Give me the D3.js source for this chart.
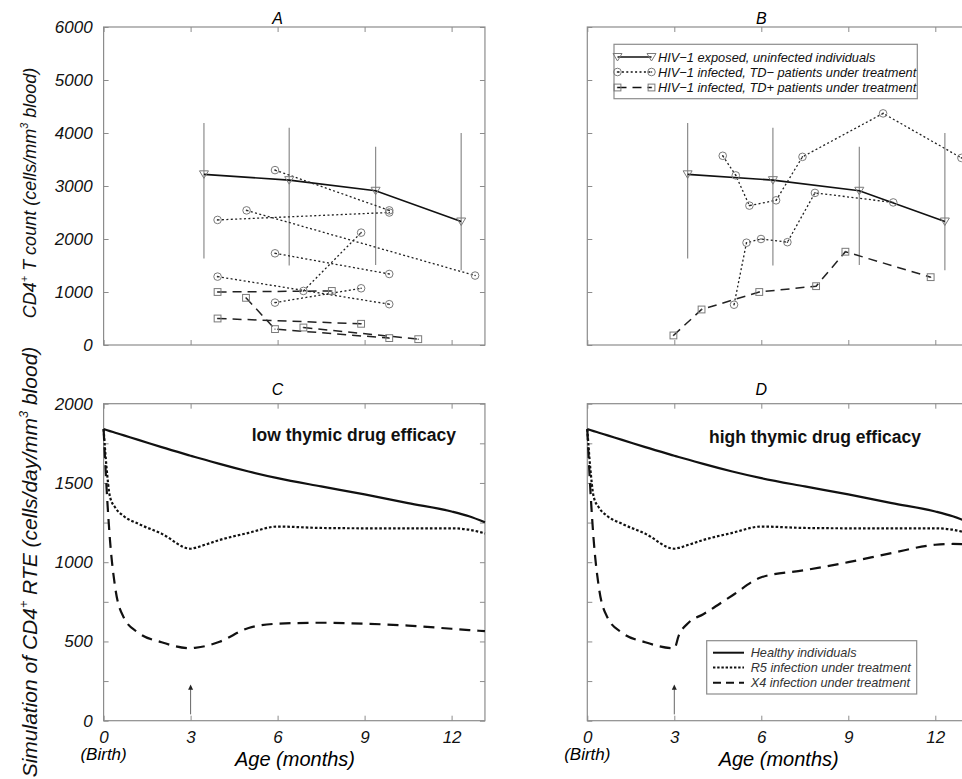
<!DOCTYPE html>
<html>
<head>
<meta charset="utf-8">
<script src="https://cdn.jsdelivr.net/npm/d3@7"></script>
<style>
  body { margin: 0; background: #fff; }
  svg text { font-family: "Liberation Sans", Arial, Helvetica, sans-serif; }
</style>
</head>
<body>
<svg id="fig" width="962" height="779"></svg>
<script>
// ---- data ----
const monthTicks = [0, 3, 6, 9, 12]
const countTicks = [0, 1000, 2000, 3000, 4000, 5000, 6000]
const rteTicks = [0, 250, 500, 750, 1000, 1250, 1500, 1750, 2000]

// HIV-1 exposed, uninfected (mean + range bars), same in A and B
const exposedAge = [3.46, 6.40, 9.38, 12.33]
const exposedMean = [3220, 3110, 2910, 2330]
const exposedHigh = [4190, 4100, 3740, 4000]
const exposedLow = [1630, 1500, 1510, 1410]

// individual patients, [age (months), CD4 count]
const tdMinusA = [
  [[5.91, 3300], [9.85, 2540]],
  [[3.93, 2360], [9.85, 2500]],
  [[4.93, 2540], [12.81, 1310]],
  [[5.91, 1730], [9.85, 1340]],
  [[3.93, 1290], [9.85, 770]],
  [[6.89, 1020], [8.88, 2120]],
  [[5.91, 800], [8.88, 1070]]
]
const tdPlusA = [
  [[3.93, 1000], [7.87, 1020]],
  [[3.93, 500], [8.88, 400]],
  [[4.91, 890], [5.91, 300], [9.85, 130]],
  [[6.89, 330], [10.85, 110]]
]
const tdMinusB = [
  [[4.67, 3570], [5.12, 3200], [5.59, 2630], [6.51, 2730], [7.42, 3550], [10.2, 4370], [12.9, 3530]],
  [[5.06, 760], [5.49, 1930], [5.99, 2000], [6.90, 1940], [7.85, 2870], [10.55, 2690]]
]
const tdPlusB = [
  [[2.97, 180], [3.94, 670], [5.93, 1000], [7.89, 1110], [8.90, 1760], [11.84, 1280]]
]

// simulations (C: low efficacy, D: high efficacy)
const simAge  = [0, 0.1, 0.22, 0.4, 0.7, 1.2, 2, 3, 3.15, 3.5, 4, 5, 6, 7.5, 9, 10.5, 12, 12.6, 13.15]
const healthy = [1840, 1834, 1827, 1817, 1800, 1772, 1726, 1672, 1664, 1646, 1620, 1572, 1530, 1478, 1428, 1373, 1320, 1290, 1252]
const r5      = [1840, 1600, 1413, 1345, 1290, 1242, 1180, 1085, 1090, 1110, 1140, 1185, 1225, 1216, 1214, 1214, 1214, 1205, 1182]
const x4Low   = [1840, 1476, 1140, 840, 650, 555, 495, 457, 460, 470, 498, 585, 612, 618, 612, 600, 580, 572, 565]
const x4High  = [1840, 1476, 1140, 840, 650, 555, 495, 457, 535, 620, 672, 790, 905, 950, 1000, 1058, 1110, 1115, 1112]

const legendTop = [
  "HIV\u22121 exposed, uninfected individuals",
  "HIV\u22121 infected, TD\u2212 patients under treatment",
  "HIV\u22121 infected, TD+ patients under treatment"
]
const legendBottom = ["Healthy individuals", "R5 infection under treatment", "X4 infection under treatment"]

// ---- layout ----
const svg = d3.select("#fig")
const frameCol = "#8c8c8c"
const markCol = "#7a7a7a"
const maxAge = 13.15
const pxPerMonth = 29

function makePanel(left, top, bottom, yMax, yTicks, yStep, xLabels, title, titleY) {
  const x = d3.scaleLinear().domain([0, maxAge]).range([left, left + maxAge * pxPerMonth])
  const y = d3.scaleLinear().domain([0, yMax]).range([bottom, top])
  const g = svg.append("g")

  g.append("rect")
    .attr("x", left).attr("y", top)
    .attr("width", x(maxAge) - left).attr("height", bottom - top)
    .attr("fill", "none").attr("stroke", frameCol).attr("stroke-width", 1.2)

  const axes = [
    [d3.axisBottom(x).tickValues(monthTicks), `translate(0,${bottom})`, xLabels ? d => d : ""],
    [d3.axisTop(x).tickValues(monthTicks), `translate(0,${top})`, ""],
    [d3.axisLeft(y).tickValues(yTicks), `translate(${left},0)`, yStep ? d => (d % yStep == 0 ? d : "") : ""],
    [d3.axisRight(y).tickValues(yTicks), `translate(${x(maxAge)},0)`, ""]
  ]
  axes.forEach(([ax, tr, fmt], i) => {
    const a = g.append("g")
      .attr("transform", tr)
      .call(ax.tickSizeInner(-5).tickSizeOuter(0).tickPadding(i == 0 ? 10 : 11).tickFormat(fmt))
    a.select(".domain").remove()
    a.selectAll("line").attr("stroke", frameCol).attr("stroke-width", 1)
    a.selectAll("text")
      .attr("font-size", 17).attr("font-style", "italic").attr("fill", "#111")
      .style("font-family", '"Liberation Sans", Arial, sans-serif')
  })

  g.append("text")
    .attr("x", x(6)).attr("y", titleY)
    .attr("text-anchor", "middle")
    .attr("font-size", 16).attr("font-style", "italic")
    .text(title)

  return { x, y, g }
}

const A = makePanel(103.6, 27, 345, 6000, countTicks, 1000, false, "A", 24)
const B = makePanel(587.3, 27, 345, 6000, countTicks, null, false, "B", 24)
const C = makePanel(103.6, 403.7, 720.7, 2000, rteTicks, 500, true, "C", 395)
const D = makePanel(587.3, 403.7, 720.7, 2000, rteTicks, null, true, "D", 395)

// ---- markers ----
function triangle(g, cx, cy) {
  g.append("path")
    .attr("d", `M${cx - 4.5},${cy - 3.5}L${cx + 4.5},${cy - 3.5}L${cx},${cy + 4}Z`)
    .attr("fill", "none").attr("stroke", markCol).attr("stroke-width", 1)
}
function circleMark(g, cx, cy) {
  g.append("circle").attr("cx", cx).attr("cy", cy).attr("r", 3.8)
    .attr("fill", "none").attr("stroke", markCol).attr("stroke-width", 1)
  g.append("circle").attr("cx", cx).attr("cy", cy).attr("r", 0.8).attr("fill", "#333")
}
function squareMark(g, cx, cy) {
  g.append("rect").attr("x", cx - 3.4).attr("y", cy - 3.4).attr("width", 6.8).attr("height", 6.8)
    .attr("fill", "none").attr("stroke", markCol).attr("stroke-width", 1)
  g.append("circle").attr("cx", cx).attr("cy", cy).attr("r", 0.7).attr("fill", "#444")
}

const dotted = { dash: "2,2.4", width: 1.3 }
const dashed = { dash: "9,6", width: 1.5 }

function drawData(P, tdMinus, tdPlus) {
  const line = d3.line().x(d => P.x(d[0])).y(d => P.y(d[1]))

  // range bars
  P.g.selectAll(".bar").data(exposedAge).join("line")
    .attr("x1", d => P.x(d)).attr("x2", d => P.x(d))
    .attr("y1", (_, i) => P.y(exposedLow[i])).attr("y2", (_, i) => P.y(exposedHigh[i]))
    .attr("stroke", frameCol).attr("stroke-width", 1.2)

  const exposed = exposedAge.map((a, i) => [a, exposedMean[i]])
  P.g.append("path").attr("d", line(exposed))
    .attr("fill", "none").attr("stroke", "#111").attr("stroke-width", 1.6)

  tdPlus.forEach(s => {
    P.g.append("path").attr("d", line(s))
      .attr("fill", "none").attr("stroke", "#222")
      .attr("stroke-width", dashed.width).attr("stroke-dasharray", dashed.dash)
  })
  tdMinus.forEach(s => {
    P.g.append("path").attr("d", line(s))
      .attr("fill", "none").attr("stroke", "#222")
      .attr("stroke-width", dotted.width).attr("stroke-dasharray", dotted.dash)
  })

  exposed.forEach(d => triangle(P.g, P.x(d[0]), P.y(d[1])))
  tdMinus.forEach(s => s.forEach(d => circleMark(P.g, P.x(d[0]), P.y(d[1]))))
  tdPlus.forEach(s => s.forEach(d => squareMark(P.g, P.x(d[0]), P.y(d[1]))))
}

drawData(A, tdMinusA, tdPlusA)
drawData(B, tdMinusB, tdPlusB)

// legend in B
{
  const lg = svg.append("g")
  lg.append("rect").attr("x", 614).attr("y", 44.3).attr("width", 303.3).attr("height", 54.4)
    .attr("fill", "#fff").attr("stroke", frameCol).attr("stroke-width", 1.2)
  const rowY = [57, 72, 87.5]
  const styles = [{ dash: null, width: 1.6 }, dotted, dashed]
  const marks = [triangle, circleMark, squareMark]
  legendTop.forEach((t, i) => {
    lg.append("line").attr("x1", 617.5).attr("x2", 651.5).attr("y1", rowY[i]).attr("y2", rowY[i])
      .attr("stroke", "#111").attr("stroke-width", styles[i].width)
      .attr("stroke-dasharray", styles[i].dash)
    marks[i](lg, 617.5, rowY[i])
    marks[i](lg, 651.5, rowY[i])
    lg.append("text").attr("x", 658).attr("y", rowY[i] + 4.6)
      .attr("font-size", 12.8).attr("font-style", "italic").attr("fill", "#111")
      .text(t)
  })
}

// ---- simulations ----
const simStyles = [
  { dash: null, width: 2.2 },
  { dash: "2.6,2", width: 2.2 },
  { dash: "11,7", width: 2.2 }
]
function drawSim(P, x4, note, noteAt) {
  const line = d3.line().curve(d3.curveMonotoneX)
    .x(d => P.x(d[0])).y(d => P.y(d[1]))
  ;[healthy, r5, x4].forEach((vals, k) => {
    P.g.append("path")
      .attr("d", line(simAge.map((a, i) => [a, vals[i]])))
      .attr("fill", "none").attr("stroke", "#111")
      .attr("stroke-width", simStyles[k].width)
      .attr("stroke-dasharray", simStyles[k].dash)
  })

  // arrow at start of treatment (3 months)
  P.g.append("line")
    .attr("x1", P.x(3)).attr("x2", P.x(3))
    .attr("y1", P.y(40)).attr("y2", P.y(205))
    .attr("stroke", "#666").attr("stroke-width", 1)
  P.g.append("path")
    .attr("d", `M${P.x(3) - 2.5},${P.y(195)}L${P.x(3) + 2.5},${P.y(195)}L${P.x(3)},${P.y(228)}Z`)
    .attr("fill", "#222")

  P.g.append("text")
    .attr("x", P.x(noteAt[0])).attr("y", P.y(noteAt[1]))
    .attr("text-anchor", "middle")
    .attr("font-size", 17.5).attr("font-weight", "bold").attr("fill", "#111")
    .text(note)

  // "(Birth)" and x title
  P.g.append("text").attr("x", P.x(0)).attr("y", 760)
    .attr("text-anchor", "middle").attr("font-size", 17).attr("font-style", "italic")
    .text("(Birth)")
  P.g.append("text").attr("x", P.x(6.6)).attr("y", 766)
    .attr("text-anchor", "middle").attr("font-size", 20).attr("font-style", "italic")
    .text("Age (months)")
}
drawSim(C, x4Low, "low thymic drug efficacy", [8.63, 1765])
drawSim(D, x4High, "high thymic drug efficacy", [7.85, 1752])

// legend in D
{
  const lg = svg.append("g")
  lg.append("rect").attr("x", 706.7).attr("y", 640.7).attr("width", 210).attr("height", 53.3)
    .attr("fill", "#fff").attr("stroke", frameCol).attr("stroke-width", 1.2)
  const rowY = [652.7, 667.5, 682.7]
  legendBottom.forEach((t, i) => {
    lg.append("line").attr("x1", 713).attr("x2", 744).attr("y1", rowY[i]).attr("y2", rowY[i])
      .attr("stroke", "#111").attr("stroke-width", 2)
      .attr("stroke-dasharray", i == 0 ? null : (i == 1 ? "2.4,1.8" : "8,5"))
    lg.append("text").attr("x", 750.7).attr("y", rowY[i] + 4.4)
      .attr("font-size", 12.7).attr("font-style", "italic").attr("fill", "#333")
      .text(t)
  })
}

// ---- y axis titles with superscripts ----
function yTitle(cx, cy, size, parts) {
  const t = svg.append("text")
    .attr("transform", `translate(${cx},${cy}) rotate(-90)`)
    .attr("text-anchor", "middle")
    .attr("font-size", size).attr("font-style", "italic").attr("fill", "#111")
  const shift = size * 0.42
  parts.forEach(([s, sup], i) => {
    const sp = t.append("tspan").text(s)
    if (sup) sp.attr("dy", -shift).attr("font-size", size * 0.6)
    else if (i > 0) sp.attr("dy", shift)
  })
}
yTitle(36, 193, 18, [["CD4"], ["+", 1], [" T count (cells/mm"], ["3", 1], [" blood)"]])
yTitle(37, 562, 21, [["Simulation of CD4"], ["+", 1], [" RTE (cells/day/mm"], ["3", 1], [" blood)"]])
</script>
</body>
</html>
